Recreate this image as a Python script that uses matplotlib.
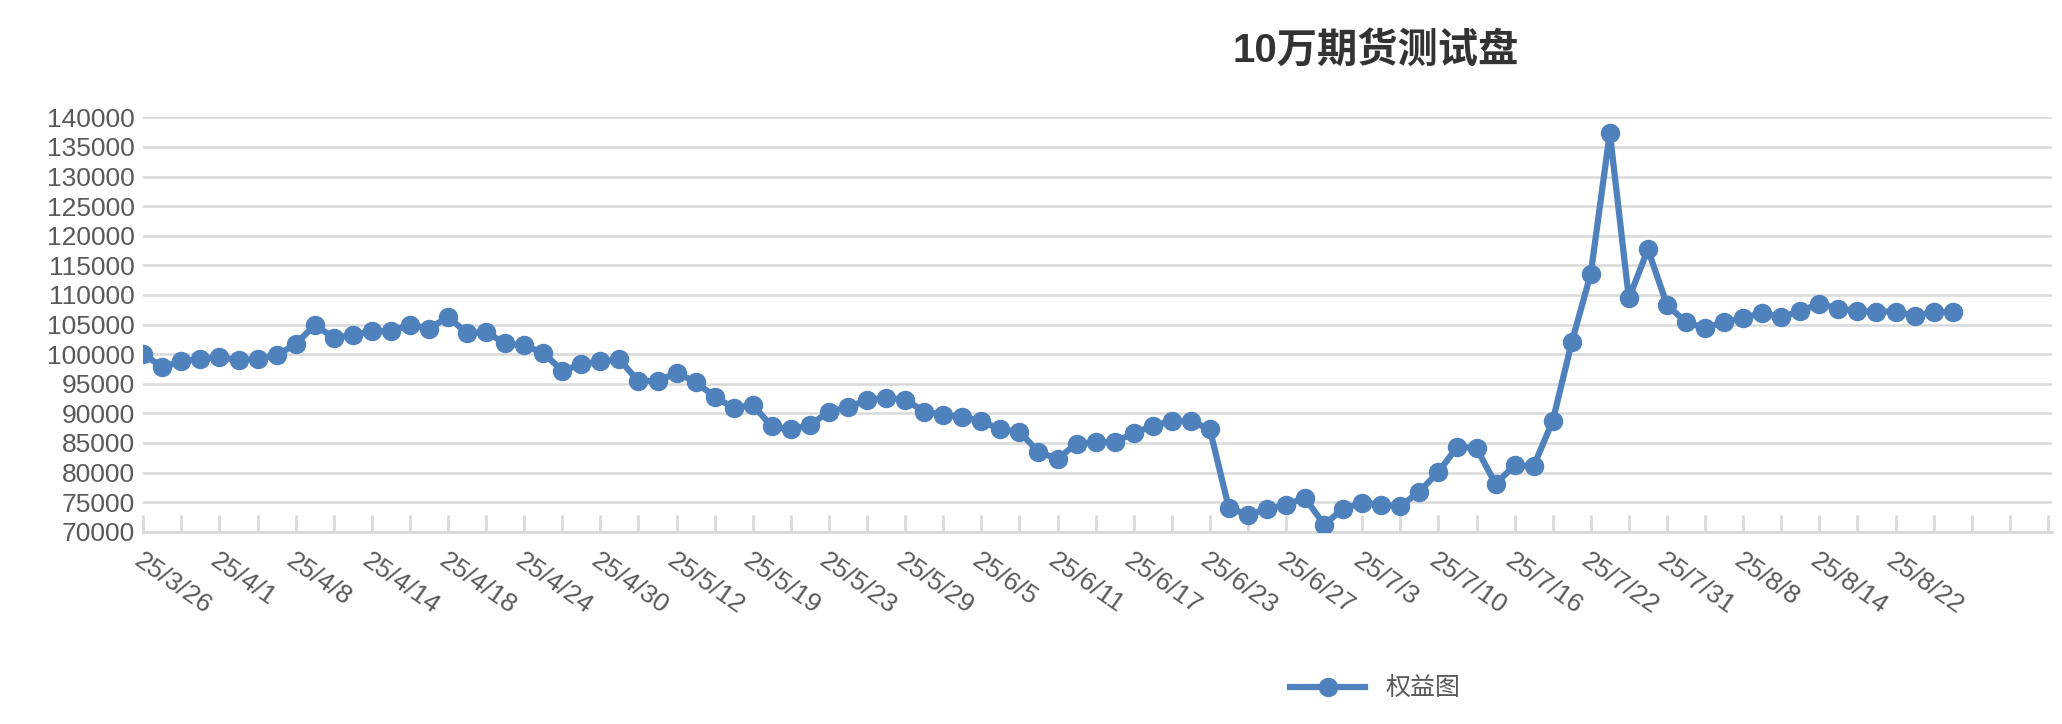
import matplotlib
matplotlib.use("Agg")
import matplotlib.pyplot as plt

plt.rcParams['font.family'] = ['Liberation Sans', 'Noto Sans CJK SC', 'DejaVu Sans']

values = [100000, 97800, 98800, 99200, 99500, 99000, 99200, 99800, 101700, 104900,
          102800, 103200, 103900, 103900, 105000, 104300, 106300, 103500, 103700, 101800,
          101500, 100200, 97200, 98300, 98800, 99100, 95400, 95500, 96800, 95300,
          92800, 90900, 91400, 87800, 87300, 88000, 90300, 91000, 92300, 92600,
          92300, 90300, 89800, 89400, 88700, 87300, 86900, 83500, 82300, 84900,
          85100, 85200, 86600, 87900, 88700, 88700, 87300, 74000, 72900, 73800,
          74600, 75700, 71200, 73900, 74900, 74600, 74300, 76800, 80100, 84400,
          84100, 78100, 81200, 81100, 88700, 102000, 113600, 137400, 109400, 117700,
          108300, 105400, 104400, 105400, 106100, 107000, 106200, 107300, 108500, 107700,
          107300, 107200, 107200, 106500, 107100, 107100]
tick_labels = ["25/3/26", "25/4/1", "25/4/8", "25/4/14", "25/4/18", "25/4/24", "25/4/30",
               "25/5/12", "25/5/19", "25/5/23", "25/5/29", "25/6/5", "25/6/11", "25/6/17",
               "25/6/23", "25/6/27", "25/7/3", "25/7/10", "25/7/16", "25/7/22", "25/7/31",
               "25/8/8", "25/8/14", "25/8/22"]
title = "10万期货测试盘"
series_name = "权益图"

fig = plt.figure(figsize=(20.62, 7.24), dpi=100)
ax = fig.add_axes([0.0695, 0.2655, 0.9255, 0.5725])
x = list(range(len(values)))
ax.plot(x, values, color='#4f81bd', lw=4.5, marker='o', markersize=13, label=series_name, zorder=3)
ax.set_ylim(70000, 140000)
ax.set_xlim(0, 100.2)
ax.set_yticks(range(70000, 140001, 5000))
ax.grid(axis='y', color='#d9d9d9', lw=1.8)
ax.set_axisbelow(True)
for s in ['left', 'right', 'top']:
    ax.spines[s].set_visible(False)
ax.spines['bottom'].set_color('#d9d9d9')
ax.spines['bottom'].set_linewidth(2)
ax.set_xticks(range(0, 101, 2), minor=True)
ax.set_xticks(range(0, 4 * len(tick_labels), 4))
ax.set_xticklabels(tick_labels, rotation=-35, ha='left', va='top', rotation_mode='anchor')
ax.tick_params(axis='x', which='both', direction='in', length=12, color='#d9d9d9', width=2,
               labelsize=19, labelcolor='#595959', pad=12)
ax.tick_params(axis='y', length=0, labelsize=19, labelcolor='#595959', pad=6)
for lab in ax.get_xticklabels():
    lab.set_x(lab.get_position()[0] - 0.5)
fig.text(0.667, 0.93, title, ha='center', va='center', fontsize=29, fontweight='bold', color='#333333')
fig.legend(loc='center', bbox_to_anchor=(0.667, 0.048), frameon=False, fontsize=18,
           labelcolor='#595959', handlelength=3)
fig.savefig('out.png', dpi=100)
